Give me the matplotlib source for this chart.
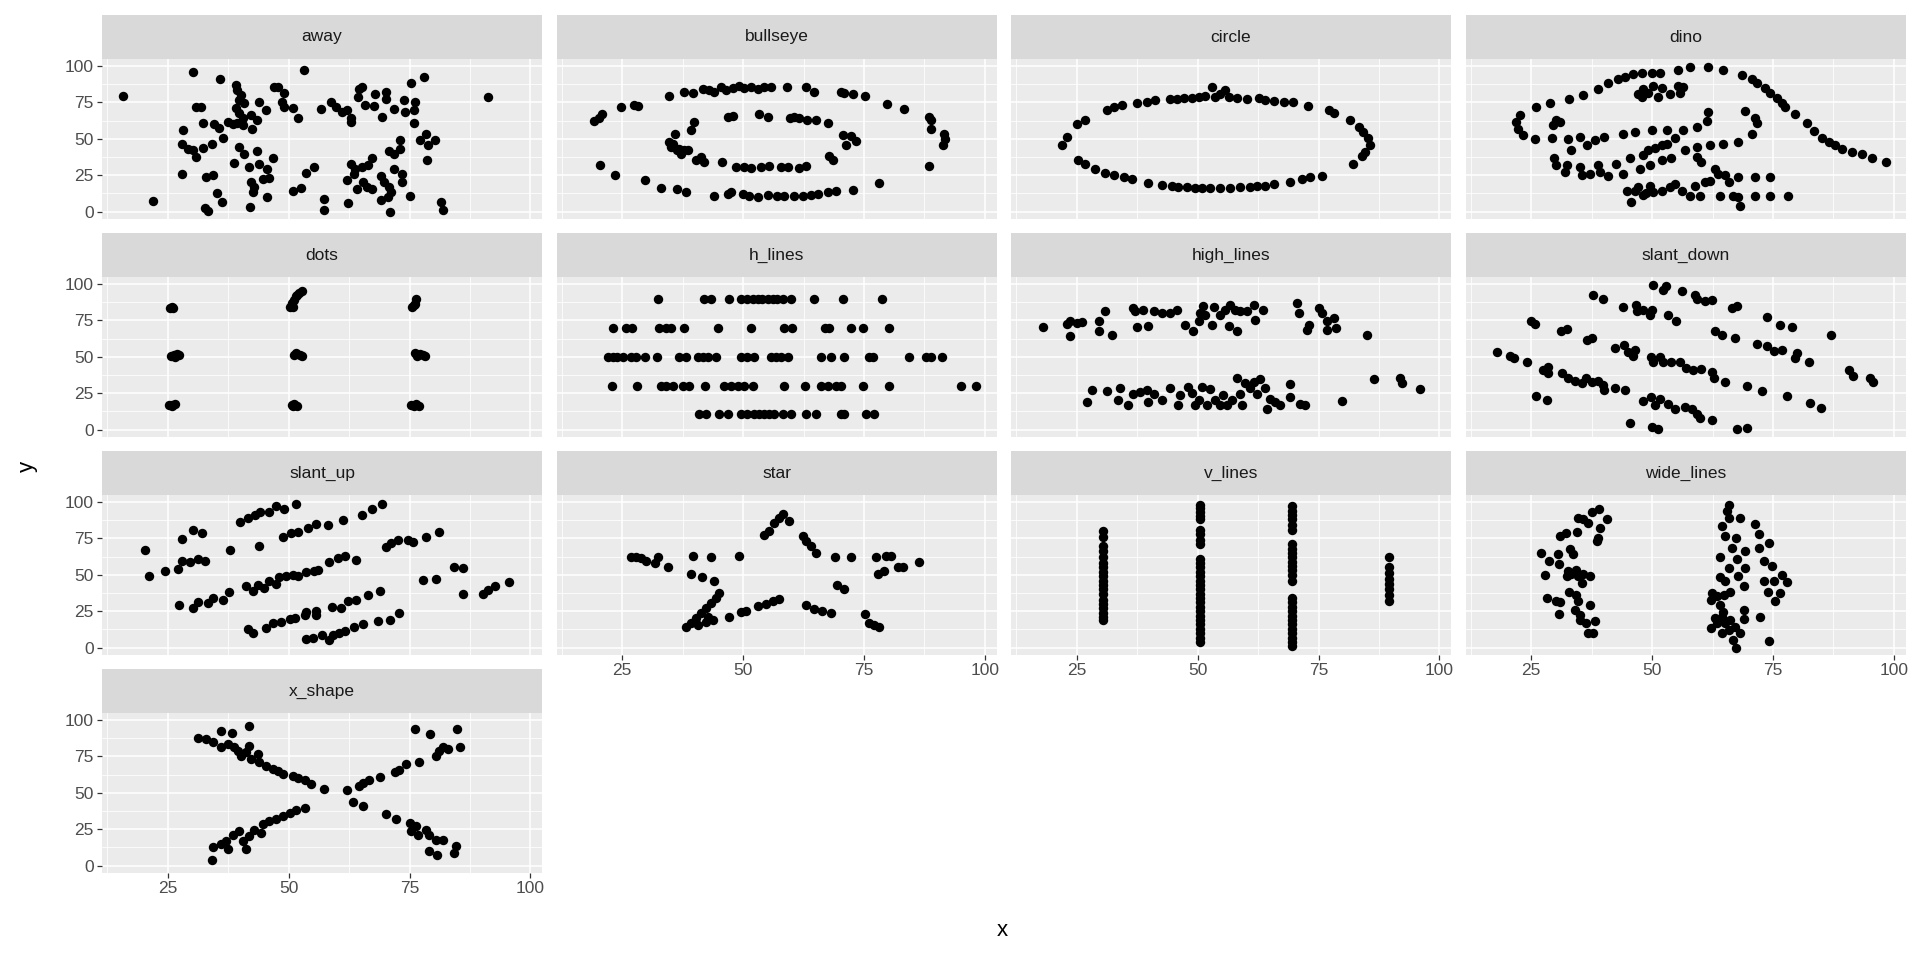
import matplotlib
matplotlib.use("Agg")
import matplotlib.pyplot as plt

plt.rcParams['font.family'] = ['Liberation Sans', 'DejaVu Sans']

# points, (x, y) per dataset
away = [(15.7, 79.5), (30.2, 96.1), (35.9, 90.8), (53.2, 96.8), (77.9, 92.6), (91.3, 78.9), (75.3, 88),
        (39.1, 86.9), (39.4, 83.4), (40.1, 80), (39.8, 76.6), (40.8, 74.3), (39.1, 70.8), (39.8, 67.4),
        (40.5, 63.9), (39.4, 60.5), (40.5, 59.3), (47, 85.3), (47.7, 85.7), (49, 81.6), (48.7, 75.4),
        (49, 72), (50.8, 70.8), (52, 64.4), (43.9, 75.4), (45.3, 69.7), (30.8, 71.5), (31.9, 71.5),
        (42.2, 66.2), (43.5, 62.8), (42.5, 56.6), (32.3, 61.1), (34.6, 60), (35.6, 57.7), (37.4, 61.6),
        (38.4, 60), (28.2, 56.3), (36.5, 50.6), (28, 46.7), (29.1, 43.2), (30.2, 42.5), (30.8, 37.5),
        (32.2, 43.9), (34.1, 46.2), (28, 26), (32.9, 24.1), (34.3, 25.5), (21.9, 7.1), (32.6, 2.5),
        (33.4, 0.7), (35.1, 12.6), (36.3, 6.4), (42, 3.4), (38.6, 33.3), (39.8, 44.4), (40.8, 39.3),
        (43.5, 41.4), (41.7, 30.6), (43.9, 32.4), (45.6, 29.4), (46.8, 37), (42.2, 20.2), (42.9, 17.2),
        (42.7, 13.3), (44.6, 22.5), (45.9, 23.2), (45.6, 10.3), (50.8, 14), (52.5, 16.3), (53.5, 26.4),
        (55.2, 30.6), (56.6, 70.1), (58.7, 75.4), (59.7, 72), (61.1, 68.5), (62.1, 69.7), (62.8, 63.9),
        (62.8, 61.6), (64.5, 83.9), (65.2, 85.3), (64.4, 78.4), (65.7, 73.1), (67.6, 72.4), (67.9, 80.7),
        (70.1, 82.3), (70.1, 77), (69.3, 65.1), (71.7, 70.1), (73.8, 76.6), (76.2, 75.4), (74.1, 68.5),
        (75.9, 69.7), (75.9, 60.5), (57.3, 8.7), (57.3, 1.1), (62.3, 5.7), (62.8, 32.9), (63.8, 29.4),
        (65.2, 30.6), (67.2, 37), (66.5, 31.7), (62.1, 21.8), (63.5, 26), (65.3, 20.2), (64.2, 15.6),
        (66.3, 17.2), (67.3, 15.6), (69.1, 24.8), (69.8, 20.2), (70.8, 17.2), (71.1, 13.3), (70.5, 9.9),
        (69.1, 8), (71, 0), (71.8, 29.4), (73.5, 26), (73.5, 20.2), (75.1, 10.6), (70.7, 41.6),
        (71.8, 39.8), (73.1, 43.2), (73.1, 49.4), (77.2, 49), (78.4, 53.1), (78.9, 45.5), (80.3, 49.4),
        (78.6, 35.2), (81.5, 6.4), (81.9, 1.1)]

bullseye = [(34.7, 79.5), (37.8, 82.3), (39.6, 81.1), (41.6, 84.1), (43, 83.4), (44, 82.3), (45.4, 85.7),
            (46.4, 83.4), (47.8, 84.6), (49.2, 86.2), (50.2, 84.6), (51.6, 85.7), (53, 83.9), (54.4, 85.3),
            (55.8, 85.7), (59.1, 85.3), (63, 85.7), (64.7, 82.3), (70.2, 82.3), (70.9, 81.1), (72.7, 80.5),
            (75.1, 79.5), (79.8, 73.8), (83.2, 70.3), (88.5, 65.1), (88.9, 62.8), (88.9, 57), (91.6, 53.6),
            (91.8, 50.1), (91.3, 45.5), (88.5, 31), (78.2, 19.5), (72.7, 15.2), (69.2, 14.5), (67.5, 13.3),
            (65.4, 12.2), (64, 11.7), (62.3, 11), (60.6, 11), (58.5, 10.6), (57.1, 10.6), (55.1, 11.7),
            (53, 9.9), (51.3, 10.6), (49.9, 12.2), (47.5, 13.3), (46.8, 12.2), (43.9, 11), (38.2, 13.3),
            (36.4, 15.6), (33, 16.3), (29.8, 21.8), (23.5, 25.5), (20.4, 32.2), (19.2, 62.1), (20.2, 63.9),
            (20.9, 66.9), (24.7, 71.5), (27.5, 73.1), (28.3, 72.4),
            (34.6, 47.8), (35.1, 44.4), (35.9, 53.6), (36.4, 42.1), (37.1, 39.8), (37.8, 42.1), (38.5, 42.1),
            (39.2, 55.9), (39.9, 61.6), (40.2, 35.2), (41.3, 37.5), (42, 34), (45.6, 34), (48.5, 30.6),
            (50.2, 30.6), (51.6, 30.1), (53.7, 30.6), (55.4, 31), (57.8, 30.6), (59.2, 30.6), (61.6, 30.1),
            (63, 31), (67.8, 37.9), (68.5, 35.2), (70.6, 52.4), (71.3, 45.5), (72.3, 51.7), (73.3, 48.5),
            (67.5, 61.1), (65.1, 62.8), (63.3, 63.2), (61.6, 63.9), (60.6, 65.1), (59.6, 63.9), (55.1, 65.1),
            (53.3, 66.7), (47.8, 65.7), (46.8, 64.6), (35.4, 46.7), (36.8, 43.2)]

circle = [(21.9, 45.5), (22.9, 51.3), (25, 60), (26.7, 62.8), (31.2, 69.7), (32.6, 71.5), (34.3, 73.1),
          (37.4, 74.3), (39.5, 75.4), (41.2, 76.6), (44.3, 77), (45.7, 77.2), (47.1, 77.7), (48.8, 78.2),
          (50.2, 78.9), (51.6, 79.5), (52.9, 85.7), (53.6, 78.9), (54.7, 80.5), (55.7, 83.4), (56.4, 78.9),
          (58.1, 78.2), (60.2, 77), (62.6, 77.7), (64, 76.6), (65.7, 75.9), (67.8, 75.4), (69.8, 75.4),
          (72.9, 72.4), (77.1, 69.7), (78.1, 68), (81.6, 63.2), (83.3, 58.2), (84.3, 54.7), (85.3, 50.8),
          (85.7, 45.5), (84.7, 40.9), (84, 37.9), (82.2, 32.9), (75.7, 24.8), (73.3, 23.7), (71.6, 22.5),
          (69.1, 20.2), (65.7, 19.1), (64, 17.9), (62.2, 17.9), (60.9, 17.2), (58.8, 16.8), (56.7, 16.3),
          (54.7, 16.1), (52.6, 16.1), (50.9, 16.1), (49.5, 16.3), (47.8, 16.8), (46, 17.2), (44.7, 17.9),
          (42.6, 18.6), (39.8, 19.5), (36.4, 22.5), (34.7, 23.7), (32.6, 25.5), (30.9, 26.4), (28.8, 29.4),
          (26.7, 32.9), (25.3, 35.6)]

dino = [(22.6, 66.2), (21.9, 61.6), (22.2, 57), (23.3, 52.4), (25.8, 50.1), (29.3, 50.8), (32.6, 50.1),
        (35, 51.3), (36.6, 46), (38.1, 49.4), (40.1, 51.3), (44, 53.1), (46.4, 54.7), (49.9, 55.9),
        (53, 55.9), (56.4, 56.3), (59.2, 58.2), (61.3, 62.1), (61.6, 68.5), (26, 71.5), (28.8, 74.7),
        (32.9, 77.2), (35.7, 80), (38.7, 84.1), (40.8, 88), (43, 90.8), (44.4, 92.6), (46.1, 94.5),
        (47.8, 94.9), (49.9, 95.4), (51.6, 95.4), (55.4, 97.2), (57.8, 99.1), (61.6, 99.1), (64.7, 97.2),
        (68.5, 93.8), (70.6, 90.8), (71.6, 88), (73.4, 84.6), (74.4, 81.1), (75.8, 77.7), (76.8, 74.7),
        (77.5, 72), (79.6, 66.9), (82, 60.5), (83.4, 55.4), (85.1, 50.8), (86.5, 47.8), (87.9, 45.5),
        (89.3, 43.2), (91.3, 40.9), (93.4, 39.3), (95.5, 37), (98.3, 34),
        (47.1, 80.7), (48.2, 83.9), (49.2, 81.6), (50.2, 86.2), (51.3, 78.9), (52, 84.6), (53.7, 80.7),
        (55.4, 86.2), (56.4, 85.7), (55.8, 81.6), (47.8, 78.9),
        (30.2, 62.8), (30.9, 61.6), (29.5, 59.3),
        (69.2, 69.2), (71.3, 63.9), (71.6, 60.9), (70.6, 53.1), (67.8, 47.8), (64.7, 46.7), (62, 45.5),
        (59.2, 44.4), (56.8, 42.5), (54.7, 50.8), (53, 46.7), (52, 45.5), (50.6, 43.9), (49.2, 42.1),
        (48.2, 38.6), (54, 37), (52, 35.2), (49.5, 31.7), (47.5, 29.4), (45.4, 37), (42.6, 32.9),
        (44, 26), (40.9, 24.8), (38.7, 31.7), (39.2, 27.1), (37.1, 26), (35.4, 25.5), (35, 30.6),
        (33.3, 42.5), (32.3, 31.7), (31.9, 27.1), (30.2, 31.7), (29.8, 37), (59.2, 37.5), (60.2, 34),
        (44.7, 14.5), (46.4, 14.5), (47.1, 17.2), (48.2, 11.7), (49.5, 17.9), (50.2, 13.3), (52, 14.5),
        (53.7, 16.8), (54.7, 19.1), (56.1, 14), (57.8, 11), (58.9, 17.9), (59.9, 11), (60.9, 20.2),
        (62, 21.4), (63, 29.4), (63.7, 26), (64, 11), (65.8, 20.2), (66.8, 11), (67.8, 9.9), (68.2, 4.1),
        (67.8, 23.7), (71.3, 23.7), (71.3, 11), (74.4, 23.7), (74.4, 11), (78.2, 11), (45.7, 6.4),
        (48.8, 12.6), (65.1, 25.5)]

dots = [(25.4, 83.3), (26, 83.5), (25.8, 84.1), (26.3, 51.2), (25.6, 50.8), (26.9, 52.2), (27.3, 51.1),
        (26.5, 49.6), (25.2, 17.1), (25.8, 16.2), (26.4, 17.8), (25.9, 16.7),
        (50.3, 84.2), (50.7, 86.9), (51.2, 88.6), (51.6, 91.5), (52.2, 93.4), (52.8, 95.1), (51.8, 92.2),
        (50.8, 83.8), (51.5, 52.3), (52.3, 51.1), (52.7, 50.5), (51.2, 50.9), (50.6, 16.8), (51.2, 17.3),
        (51.8, 16.1), (50.8, 16.4),
        (75.5, 84.1), (76.1, 86.3), (76.3, 89.4), (75.9, 85.2), (76.1, 52.7), (77.2, 51.6), (77.8, 51),
        (78.1, 50.5), (76.5, 50.7), (75.3, 16.8), (75.9, 16.2), (76.4, 17.4), (76.9, 16.6)]

h_lines = [(32.3, 89.5), (42, 89.5), (43.3, 89.5), (47.1, 89.5), (49.6, 89.5), (50.9, 89.5), (52, 89.5),
           (53, 89.5), (54, 89.5), (55.1, 89.5), (56.1, 89.5), (57.1, 89.5), (58.2, 89.5), (59.9, 89.5),
           (64.7, 89.5), (70.7, 89.5), (78.7, 89.5),
           (23, 69.7), (25.8, 69.7), (27.1, 69.7), (32.7, 69.7), (34, 69.7), (35.1, 69.7), (37.8, 69.7),
           (44.9, 69.7), (51.6, 69.7), (58.5, 69.7), (60.2, 69.7), (66.9, 69.7), (67.8, 69.7), (72.3, 69.7),
           (74.7, 69.7), (80.2, 69.7),
           (22, 49.7), (23, 49.7), (24, 49.7), (25.1, 49.7), (26.8, 49.7), (27.8, 49.7), (29.6, 49.7),
           (32.2, 49.7), (36.8, 49.7), (38.2, 49.7), (40.6, 49.7), (41.6, 49.7), (42.7, 49.7), (44.4, 49.7),
           (49.6, 49.7), (50.9, 49.7), (52.3, 49.7), (55.8, 49.7), (56.8, 49.7), (57.8, 49.7), (59.2, 49.7),
           (66.1, 49.7), (68.2, 49.7), (70.8, 49.7), (76.1, 49.7), (76.8, 49.7), (84.4, 49.7), (87.8, 49.7),
           (88.9, 49.7), (91.1, 49.7),
           (22.8, 30.1), (28, 30.1), (33, 30.1), (34, 30.1), (35.4, 30.1), (37.5, 30.1), (38.9, 30.1),
           (42.2, 30.1), (46.1, 30.1), (47.5, 30.1), (48.9, 30.1), (50.2, 30.1), (52, 30.1), (58.5, 30.1),
           (62.8, 30.1), (66.1, 30.1), (67.5, 30.1), (69.2, 30.1), (70.2, 30.1), (74.7, 30.1), (80.2, 30.1),
           (95.1, 30.1), (98.2, 30.1),
           (40.9, 10.6), (42.3, 10.6), (45.1, 10.6), (46.8, 10.6), (49.6, 10.6), (50.9, 10.6), (52.3, 10.6),
           (53.3, 10.6), (54.4, 10.6), (55.4, 10.6), (56.4, 10.6), (58.2, 10.6), (59.9, 10.6), (63, 10.6),
           (65.1, 10.6), (70.2, 10.6), (70.9, 10.6), (75.4, 10.6), (77.1, 10.6)]

high_lines = [(18, 70.3), (22.9, 72.4), (23.6, 74.3), (23.6, 63.9), (25, 73.1), (26, 73.8), (29.5, 74.3),
              (29.5, 67.4), (30.9, 81.6), (32.2, 65.1), (36.7, 83.4), (37.1, 81.1), (37.4, 70.1),
              (38.8, 82.3), (39.8, 70.8), (40.9, 81.6), (42.6, 80), (44.3, 80), (45.7, 82.3), (47.4, 72),
              (49.1, 67.4), (50.2, 74.3), (50.5, 80), (51.2, 84.6), (51.6, 78.9), (52.9, 72), (53.3, 83.9),
              (54.7, 78.9), (55.7, 82.3), (56.7, 85.7), (56.4, 70.8), (57.8, 82.3), (58.1, 67.4), (58.8, 81.1),
              (60.2, 81.1), (61.6, 85.7), (61.9, 75.4), (63.6, 82.3), (70.5, 86.9), (70.9, 80), (72.6, 68.5),
              (73, 72), (75, 83.4), (75.7, 80), (76.7, 74.3), (76.7, 68.5), (78.1, 76.6), (78.6, 69.7),
              (85.1, 65.1),
              (27.1, 19.1), (28.1, 27.1), (31.2, 26.4), (33.6, 20.2), (33.9, 28.7), (35.7, 17.2), (36.7, 24.8),
              (38.1, 26), (39.5, 27.1), (39.8, 19.1), (40.9, 24.8), (42.6, 20.2), (44.3, 28.3), (46, 17.2),
              (46.4, 23.7), (48.1, 29.4), (48.8, 25.5), (49.5, 17.2), (50.2, 20.2), (50.9, 29.4), (51.9, 16.8),
              (52.6, 27.8), (53.6, 20.2), (54.7, 17.2), (55.3, 23.7), (56, 16.8), (57.1, 20.2), (58.1, 35.2),
              (58.8, 24.8), (59.1, 16.8), (59.8, 31.7), (60.9, 28.3), (61.6, 32.9), (62.2, 24.8), (62.9, 34.7),
              (64, 28.3), (64.3, 14.5), (65, 21.4), (66, 19.1), (67, 16.8), (69, 31), (69.1, 22.5),
              (71.2, 17.9), (72.2, 17.2), (79.8, 19.8), (86.4, 34.7), (91.9, 35.2), (92.2, 31.7), (96, 27.8)]

slant_down = [(18, 53.1), (20.7, 50.8), (21.5, 49), (24.2, 46.2), (24.9, 74.7), (25.7, 72.4), (27.4, 40.9),
              (28.5, 43.2), (28.5, 38.6), (26, 23), (28.3, 20.7), (31.2, 67.4), (32.3, 69.2), (31.4, 38.6),
              (32.6, 35.6), (34, 33.3), (35.4, 31.7), (36.4, 35.6), (37.5, 32.9), (38.8, 33.3), (39.9, 30.6),
              (40.1, 27.1), (42.3, 28.7), (44.4, 27.1), (36.6, 61.6), (37.5, 63.2), (37.8, 92.6), (39.9, 89.9),
              (44, 83.9), (42.3, 56.3), (44.2, 58.2), (45, 53.6), (46.4, 54.7), (46, 50.8), (46.7, 85.7),
              (46.9, 81.1), (48.2, 82.3), (49.5, 78.9), (49.9, 82.3), (50.2, 99.1), (52.3, 96.1), (52.8, 98.4),
              (56.2, 95.4), (58.9, 92.6), (59.2, 89.9), (60.9, 88.5), (62.3, 89.2), (53.3, 78.4), (54.9, 74.7),
              (49.7, 50.1), (50.2, 46.7), (51.6, 50.1), (52.3, 46.7), (54, 46.7), (55.8, 46.2), (57.1, 42.5),
              (58.5, 40.9), (60.2, 41.4), (62.3, 39.8), (62.7, 35.2), (65.1, 32.9), (69.6, 30.1), (72.7, 26.4),
              (77.9, 23), (82.7, 18.4), (85, 14.9), (63, 67.8), (64.4, 65.1), (67.2, 62.8), (66.5, 83.4),
              (67.5, 84.6), (71.6, 58.6), (73.7, 57.7), (75.1, 54), (76.9, 54.7), (79.6, 49.4), (80, 52.4),
              (82.4, 46.2), (73.7, 77.2), (76.5, 72), (78.9, 70.3), (86.9, 65.1), (90.7, 40.9), (91.5, 37),
              (95.1, 35.6), (95.7, 32.4), (48.2, 19.5), (49.7, 22.5), (50.6, 17.2), (51.6, 21.4), (53.3, 17.9),
              (54.7, 14.5), (56.8, 15.6), (58.2, 14.5), (59.2, 11), (59.9, 8), (62.3, 6.4), (45.4, 4.8),
              (49.9, 1.8), (51.3, 0.2), (67.5, 0.7), (69.7, 1.4)]

slant_up = [(20.2, 66.9), (21.1, 49.4), (24.5, 52.4), (27.1, 54), (28, 74.7), (30.2, 80.5), (32.1, 78.4),
            (28, 59.3), (29.5, 58.6), (31.2, 60.5), (32.6, 59.3), (27.3, 29.4), (30.2, 27.1), (31.2, 31),
            (33.3, 30.6), (34.3, 34), (36.4, 32.9), (37.6, 37.9), (37.8, 66.9), (40, 86.2), (41.6, 89.2),
            (43, 90.8), (44, 93.1), (46, 93.1), (47.4, 96.8), (49.1, 95.4), (51.6, 98.4), (41.2, 42.1),
            (42.6, 38.6), (43.6, 43.2), (45, 40.9), (46, 45.5), (47.4, 43.9), (48.1, 48.5), (49.5, 49.4),
            (50.9, 50.1), (51.9, 49.4), (53.6, 51.7), (55.3, 52.4), (56, 53.6), (58.3, 58.6), (60.2, 61.6),
            (61.6, 62.8), (64, 60), (43.8, 69.7), (48.8, 76.1), (50.5, 78.4), (51.9, 79.3), (54, 82.3),
            (55.7, 84.6), (58.1, 83.9), (61.2, 87.6), (65.2, 90.8), (67.3, 94.9), (69.3, 98.4), (41.6, 12.6),
            (42.6, 10.3), (45.3, 13.3), (46.7, 16.8), (48.4, 17.9), (50.2, 19.5), (51.4, 20.7), (53.3, 22.5),
            (53.6, 24.8), (55.6, 25.5), (55.6, 22.5), (59, 27.8), (60.9, 27.1), (62.2, 31.7), (64, 32.4),
            (66.4, 36.3), (68.8, 38.6), (53.5, 5.7), (55, 6.4), (56.9, 8.7), (58.4, 5.3), (59.1, 8.7),
            (60.5, 9.9), (61.6, 11.7), (63.6, 14.5), (65.3, 16.3), (68.4, 18.6), (70.9, 19.1), (72.9, 23.7),
            (70.2, 69.2), (71.2, 72), (72.6, 73.8), (74.7, 73.6), (75.7, 72.4), (78.4, 76.1), (81.2, 79.3),
            (77.8, 46.2), (80.4, 47.1), (84.1, 55.4), (86, 54.7), (86, 37), (90.3, 37), (91.2, 39.3),
            (92.6, 42.1), (95.6, 44.8)]

star = [(26.8, 62.3), (27.8, 62.3), (28.9, 61.6), (29.9, 59.3), (31.8, 58.2), (32.4, 62.3), (34.4, 55.4),
        (39.6, 62.8), (43.3, 62.3), (49.1, 63.2), (39.2, 50.8), (41.4, 48.5), (44, 45.5), (45.1, 37.5),
        (44.4, 34), (43.3, 30.6), (42.3, 27.1), (41.3, 23.7), (40.2, 20.2), (39.2, 16.8), (38.2, 14),
        (40.6, 15.6), (42.3, 17.9), (43.7, 19.1), (42.7, 21.4), (47.1, 21.4), (49.6, 24.8), (50.6, 25.5),
        (53, 28.7), (54.7, 30.1), (56.1, 31.7), (57.5, 33.3), (54.4, 77), (55.4, 80), (56.4, 85.7),
        (57.5, 89.2), (58.2, 91.5), (59.5, 86.9), (62.3, 76.6), (63, 73.1), (64, 69.7), (65.1, 65.1),
        (68.9, 62.3), (72.3, 62.3), (77.5, 62.3), (79.6, 62.8), (80.6, 62.8), (86.4, 58.6), (82, 55.4),
        (83, 55.4), (77.8, 50.8), (79.2, 52.4), (69.4, 43.2), (70.9, 40.2), (63, 29.4), (64.7, 26.4),
        (66.4, 25.5), (68.1, 23.7), (75.1, 23.2), (76.1, 16.8), (77.1, 15.6), (78.2, 14.5)]

v_lines = [(30.5, 80), (30.5, 76), (30.5, 70), (30.5, 66), (30.5, 62), (30.5, 58), (30.5, 55), (30.5, 52),
           (30.5, 49), (30.5, 46), (30.5, 43), (30.5, 40), (30.5, 37), (30.5, 33), (30.5, 30), (30.5, 27),
           (30.5, 24), (30.5, 21), (30.5, 19),
           (50.4, 98), (50.4, 96), (50.4, 93), (50.4, 90), (50.4, 88), (50.4, 81), (50.4, 78), (50.4, 74),
           (50.4, 71), (50.4, 61), (50.4, 58), (50.4, 55), (50.4, 52), (50.4, 49), (50.4, 46), (50.4, 43),
           (50.4, 40), (50.4, 37), (50.4, 34), (50.4, 31), (50.4, 28), (50.4, 25), (50.4, 22), (50.4, 19),
           (50.4, 16), (50.4, 13), (50.4, 10), (50.4, 7), (50.4, 4),
           (69.5, 97), (69.5, 94), (69.5, 91), (69.5, 88), (69.5, 84), (69.5, 81), (69.5, 71), (69.5, 68),
           (69.5, 65), (69.5, 62), (69.5, 59), (69.5, 56), (69.5, 53), (69.5, 50), (69.5, 46), (69.5, 34),
           (69.5, 31), (69.5, 28), (69.5, 25), (69.5, 22), (69.5, 19), (69.5, 16), (69.5, 13), (69.5, 10),
           (69.5, 7), (69.5, 4), (69.5, 1),
           (89.5, 62), (89.5, 55), (89.5, 51), (89.5, 47), (89.5, 44), (89.5, 40), (89.5, 36), (89.5, 32)]

wide_lines = [(27.1, 65.1), (27.8, 50.1), (28.3, 34), (28.6, 59.3), (30.5, 63.9), (30.7, 57.7), (30.7, 23.2),
              (30.2, 31.7), (30.9, 31), (30.9, 76.6), (32.2, 78.9), (33, 67.4), (33.7, 63.9), (34.4, 79.3),
              (32.6, 52.4), (32.3, 49), (33.3, 50.8), (34.3, 53.6), (34.7, 49), (35.4, 44.4), (35.7, 50.8),
              (37.1, 49.4), (32.9, 37.9), (34.3, 36.3), (34.7, 31.7), (34, 26), (35, 22.5), (35, 19.1),
              (36.4, 16.8), (36.7, 9.9), (37.8, 9.9), (38.1, 18.6), (37.1, 29.4), (34.7, 89.2), (35.7, 88),
              (36.8, 85.7), (37.5, 93.1), (39, 95.4), (40.6, 88), (39.2, 82.3), (38.7, 75.4), (38.5, 73.1),
              (65.8, 97.7), (65.4, 93.8), (65.8, 89.2), (64.4, 83.4), (68.1, 89.2), (71.2, 84.6), (72.2, 77.7),
              (74.1, 72), (72.2, 68.5), (73.2, 59.3), (74.8, 56.3), (76.8, 50.1), (77.9, 44.8), (73.2, 45.5),
              (75.2, 45.5), (73.9, 37.9), (76.5, 37.5), (75.4, 31.7), (72.3, 21.4), (74.1, 4.8), (65.1, 76.6),
              (67.3, 75.4), (66.5, 68.5), (69.2, 66.2), (64, 62.3), (67.5, 60.5), (65.8, 54.7), (69.2, 54.7),
              (64, 48.5), (65.1, 45.5), (67.8, 49), (68.9, 42.5), (62.4, 37.5), (62.1, 32.9), (63.4, 35.2),
              (64.8, 36.3), (66.1, 37.9), (64, 29.4), (64.7, 24.8), (68.9, 26), (62.1, 13.3), (63.1, 20.2),
              (64.4, 21.4), (65.1, 16.8), (66.1, 19.1), (67.2, 14.5), (68.2, 9.9), (69, 19.5), (67.4, 0),
              (66.8, 5.3), (64.4, 9.9), (65.8, 12.2), (63.4, 16.8)]

x_shape = [(31.2, 87.6), (32.9, 86.9), (34.3, 84.6), (36, 92.2), (36, 81.1), (37.4, 83.4), (38.3, 91),
           (38.8, 81.1), (39.5, 78.9), (40.2, 75.4), (41.9, 96.1), (41.9, 82.3), (41.2, 77.7), (42.2, 73.1),
           (43.6, 76.6), (43.9, 70.8), (45.3, 68.5), (46.7, 66.2), (47.8, 65.1), (48.8, 63.2), (50.9, 61.6),
           (51.9, 60), (53.3, 58.6), (54.7, 55.9), (57.3, 52.4),
           (34.2, 4.1), (34.3, 12.6), (36, 14.9), (37.4, 11.7), (37.1, 16.8), (38.4, 20.9), (39.8, 23.7),
           (40.5, 16.8), (41.2, 11.7), (41.9, 20.2), (42.9, 24.8), (44.3, 22.5), (44.7, 28.3), (46, 30.6),
           (47.4, 31.7), (48.8, 34), (50.2, 36.3), (51.6, 37.9), (53.3, 39.8),
           (62, 51.7), (64.5, 54.7), (65.3, 57), (66.7, 58.6), (68.8, 61.1), (71.9, 63.9), (72.9, 65.5),
           (74.2, 69.7), (76.9, 70.8), (80.4, 75.4), (81.2, 78.9), (81.9, 81.6), (82.9, 80), (85.5, 81.6),
           (76.2, 93.8), (79.3, 90.3), (84.8, 93.8),
           (63.4, 43.9), (65.3, 40.9), (70.2, 35.6), (72.2, 31.7), (75, 29.4), (76.4, 27.1), (75.3, 23.7),
           (76.7, 21.4), (78.4, 24.8), (79.1, 21.4), (80.5, 17.9), (81.9, 17.9), (79, 9.9), (80.7, 7.6),
           (84.3, 8.7), (84.7, 13.3)]

names = ["away", "bullseye", "circle", "dino", "dots", "h_lines", "high_lines",
         "slant_down", "slant_up", "star", "v_lines", "wide_lines", "x_shape"]
datasets = [away, bullseye, circle, dino, dots, h_lines, high_lines,
            slant_down, slant_up, star, v_lines, wide_lines, x_shape]

tick_vals = [25, 50, 75, 100]
y_tick_vals = [0, 25, 50, 75, 100]

W, H = 1920, 960
fig = plt.figure(figsize=(W / 100, H / 100), dpi=100)

lefts = [102, 556.5, 1011, 1465.5]
pw = 440
tops = [15, 233, 451, 669]
sh, ph = 44, 160

for i, (name, pts) in enumerate(zip(names, datasets)):
    r, c = divmod(i, 4)
    x0, top = lefts[c], tops[r]
    ax = fig.add_axes([x0 / W, 1 - (top + sh + ph) / H, pw / W, ph / H])
    sax = fig.add_axes([x0 / W, 1 - (top + sh) / H, pw / W, sh / H])

    # strip
    sax.set_facecolor("#D9D9D9")
    sax.set_xticks([])
    sax.set_yticks([])
    for s in sax.spines.values():
        s.set_visible(False)
    sax.text(0.5, 0.5, name, ha="center", va="center", fontsize=12.5, color="#1A1A1A",
             transform=sax.transAxes)

    # panel
    ax.set_facecolor("#EBEBEB")
    for s in ax.spines.values():
        s.set_visible(False)
    ax.set_xlim(11.4, 102.4)
    ax.set_ylim(-4.98, 104.67)
    ax.set_xticks(tick_vals)
    ax.set_yticks(y_tick_vals)
    ax.set_xticks([12.5, 37.5, 62.5, 87.5], minor=True)
    ax.set_yticks([12.5, 37.5, 62.5, 87.5], minor=True)
    ax.grid(which="major", color="white", lw=1.15)
    ax.grid(which="minor", color="white", lw=0.55)
    ax.set_axisbelow(True)
    ax.tick_params(which="minor", length=0)
    ax.tick_params(which="major", length=3.3, width=0.9, color="#333333",
                   labelcolor="#4D4D4D", labelsize=12.5, pad=2.5)

    xs, ys = zip(*pts)
    ax.scatter(xs, ys, s=46, c="black", linewidths=0, zorder=3)

    outer_x = (i + 4 >= len(names))
    if not outer_x:
        ax.tick_params(axis="x", bottom=False, labelbottom=False)
    if c != 0:
        ax.tick_params(axis="y", left=False, labelleft=False)

fig.text(1002 / W, 1 - 930 / H, "x", ha="center", va="center", fontsize=16, color="black")
fig.text(27 / W, 1 - 466 / H, "y", ha="center", va="center", fontsize=16, color="black", rotation=90)

fig.savefig("out.png", dpi=100)
